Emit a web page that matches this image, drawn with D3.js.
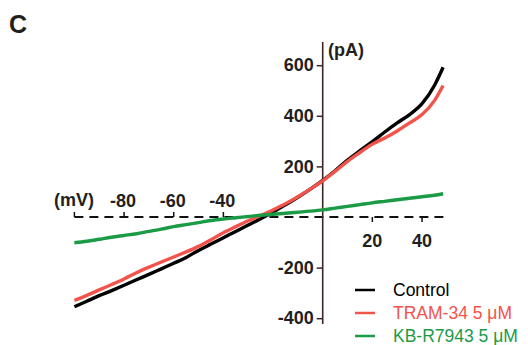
<!DOCTYPE html>
<html lang="en">
<head>
    <meta charset="UTF-8">
    <title>I-V curves</title>
    <style>
        body, html {
          margin: 0;
          width: 528px;
          height: 345px;
          background: #fff;
        }
        svg {
          display: block;
          font-family: "Liberation Sans", Arial, sans-serif;
        }
        .tick-label {
            font-size: 18px;
            font-weight: bold;
            fill: #231f20;
        }
        .legend text {
            font-size: 17.5px;
        }
    </style>
</head>
<body>
    <svg width="528" height="345"></svg>

    <script src="https://d3js.org/d3.v7.min.js"></script>
    <script>
        // voltage (mV) and currents (pA)
        const voltage = [-100, -95, -90, -85, -80, -75, -70, -65, -60, -55, -50, -45, -40, -35, -30, -25,
                         -20, -15, -10, -5, 0, 5, 10, 15, 20, 25, 30, 35, 40, 45, 48.5];
        const control = [-355, -333, -311, -291, -270, -248, -227, -205, -183, -160, -132, -107, -82, -57, -32, -7,
                         20, 48, 78, 110, 145, 183, 225, 262, 298, 336, 372, 405, 448, 520, 592];
        const tram34 = [-330, -310, -288, -267, -245, -220, -198, -178, -158, -138, -116, -90, -62, -38, -15, 6,
                        28, 52, 80, 110, 143, 180, 220, 255, 288, 312, 340, 372, 405, 460, 520];
        const kbr7943 = [-102, -96, -88, -80, -73, -66, -57, -48, -38, -30, -22, -14, -8, -3, 2, 7,
                         11, 15, 19, 23, 28, 35, 42, 49, 56, 62, 68, 74, 80, 86, 92];

        const xTicksNeg = [-100, -80, -60, -40, -20];
        const xTicksPos = [20, 40];
        const xLabelsNeg = [-80, -60, -40];
        const yTicks = [600, 400, 200, -200, -400];

        const seriesNames = ["Control", "TRAM-34 5 \u03bcM", "KB-R7943 5 \u03bcM"];
        const seriesColors = ["#000000", "#f2544c", "#1b9b46"];
        const seriesData = [control, tram34, kbr7943];

        const svg = d3.select("svg");

        const x = d3.scaleLinear().domain([-100, 0]).range([74.4, 322.7]);
        const y = d3.scaleLinear().domain([-400, 600]).range([318.2, 65.2]);

        // panel letter
        svg.append("text")
           .attr("x", 9).attr("y", 33)
           .style("font-size", "25px").style("font-weight", "bold")
           .attr("fill", "#231f20")
           .text("C");

        // dashed x axis at 0 pA
        svg.append("line")
           .attr("x1", x(-100)).attr("x2", x(50))
           .attr("y1", y(0)).attr("y2", y(0))
           .attr("stroke", "#111").attr("stroke-width", 2)
           .attr("stroke-dasharray", "9,6");

        // x ticks: upward on the negative side, downward on the positive side
        svg.append("g").selectAll("line")
           .data(xTicksNeg).enter().append("line")
           .attr("x1", d => x(d)).attr("x2", d => x(d))
           .attr("y1", y(0)).attr("y2", y(0) - 5)
           .attr("stroke", "#111").attr("stroke-width", 1.5);

        svg.append("g").selectAll("line")
           .data(xTicksPos).enter().append("line")
           .attr("x1", d => x(d)).attr("x2", d => x(d))
           .attr("y1", y(0)).attr("y2", y(0) + 5)
           .attr("stroke", "#111").attr("stroke-width", 1.5);

        svg.append("g").selectAll("text")
           .data(xLabelsNeg).enter().append("text")
           .attr("class", "tick-label")
           .attr("x", d => x(d) - 1).attr("y", y(0) - 10)
           .attr("text-anchor", "middle")
           .text(d => d);

        svg.append("g").selectAll("text")
           .data(xTicksPos).enter().append("text")
           .attr("class", "tick-label")
           .attr("x", d => x(d)).attr("y", y(0) + 30)
           .attr("text-anchor", "middle")
           .text(d => d);

        svg.append("text")
           .attr("class", "tick-label")
           .attr("x", 54).attr("y", y(0) - 11)
           .text("(mV)");

        // y axis
        const yAxis = d3.axisLeft(y).tickValues(yTicks).tickSize(6).tickPadding(3)
                        .tickFormat(d => String(d));
        const gy = svg.append("g")
                      .attr("transform", `translate(${x(0)},0)`)
                      .call(yAxis);
        gy.select(".domain").remove();
        gy.selectAll(".tick line").attr("stroke", "#3a2626").attr("stroke-width", 1.5);
        gy.selectAll(".tick text")
          .attr("class", "tick-label")
          .attr("font-family", null).attr("font-size", null)
          .attr("fill", null);

        svg.append("line")
           .attr("x1", x(0)).attr("x2", x(0))
           .attr("y1", 42).attr("y2", 324)
           .attr("stroke", "#3a2626").attr("stroke-width", 1.6);

        svg.append("text")
           .attr("class", "tick-label")
           .attr("x", 328).attr("y", 56)
           .text("(pA)");

        // traces
        const line = d3.line()
                       .x((d, i) => x(voltage[i]))
                       .y(d => y(d))
                       .curve(d3.curveMonotoneX);

        svg.append("g").selectAll("path")
           .data(seriesData).enter().append("path")
           .attr("d", d => line(d))
           .attr("fill", "none")
           .attr("stroke", (d, i) => seriesColors[i])
           .attr("stroke-width", 3.4)
           .attr("stroke-linejoin", "round");

        // legend
        const legend = svg.append("g").attr("class", "legend");
        const rows = legend.selectAll("g")
                           .data(seriesNames).enter().append("g")
                           .attr("transform", (d, i) => `translate(355,${290 + i * 23})`);
        rows.append("line")
            .attr("x1", 0).attr("x2", 20)
            .attr("stroke", (d, i) => seriesColors[i])
            .attr("stroke-width", 2.5);
        rows.append("text")
            .attr("x", 38).attr("y", 6)
            .attr("fill", (d, i) => seriesColors[i])
            .text(d => d);
    </script>
</body>
</html>
